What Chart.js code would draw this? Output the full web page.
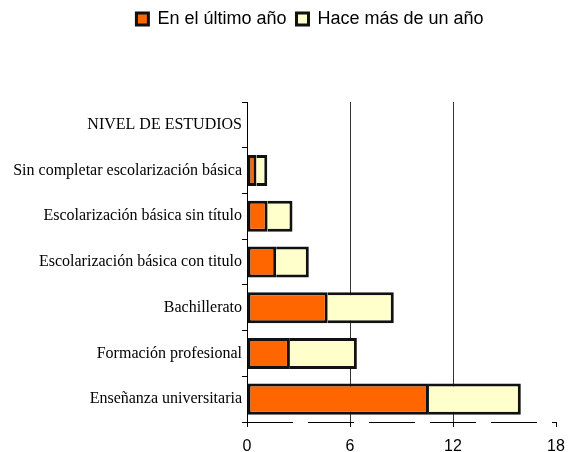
<!DOCTYPE html>
<html>
<head>
<meta charset="utf-8">
<script src="https://cdn.jsdelivr.net/npm/chart.js@4.4.0/dist/chart.umd.min.js"></script>
<style>
  html, body { margin: 0; padding: 0; background: #fff; }
  #wrap { width: 575px; height: 452px; position: relative; }
</style>
</head>
<body>
<div id="wrap"><canvas id="c" width="575" height="452"></canvas></div>
<script>
const categories = [
  "NIVEL DE ESTUDIOS",
  "Sin completar escolarización básica",
  "Escolarización básica sin título",
  "Escolarización básica con titulo",
  "Bachillerato",
  "Formación profesional",
  "Enseñanza universitaria"
];
const seriesNames = ["En el último año", "Hace más de un año"];
const ultimoAnio = [null, 0.55, 1.2, 1.7, 4.7, 2.5, 10.6];
const masDeUnAnio = [null, 0.63, 1.45, 1.9, 3.85, 3.9, 5.35];
const xTicks = [0, 6, 12, 18];

const layoutTweaks = {
  id: 'layoutTweaks',
  beforeLayout(chart) {
    const lg = chart.legend;
    if (lg && !lg._patched) {
      const f = lg.fit;
      lg.fit = function () { f.call(this); this.height = 102; };
      lg._patched = true;
    }
  },
  afterLayout(chart) {
    const lg = chart.legend;
    if (lg) { lg.left += 32; lg.right += 32; }
  },
  afterDraw(chart) {
    const x = chart.scales.x;
    const ctx = chart.ctx;
    ctx.save();
    ctx.strokeStyle = '#000';
    ctx.lineWidth = 1;
    ctx.setLineDash([46, 15]);
    ctx.beginPath();
    ctx.moveTo(x.left, Math.round(x.top) + 0.5);
    ctx.lineTo(x.right, Math.round(x.top) + 0.5);
    ctx.stroke();
    ctx.restore();
  }
};

new Chart(document.getElementById('c'), {
  type: 'bar',
  data: {
    labels: categories,
    datasets: [
      {
        label: seriesNames[0],
        data: ultimoAnio,
        backgroundColor: '#FF6600',
        borderColor: '#111',
        borderWidth: 3,
        borderSkipped: false,
        barPercentage: 0.68,
        categoryPercentage: 1
      },
      {
        label: seriesNames[1],
        data: masDeUnAnio,
        backgroundColor: '#FFFFCC',
        borderColor: '#111',
        borderWidth: 3,
        borderSkipped: 'start',
        barPercentage: 0.68,
        categoryPercentage: 1
      }
    ]
  },
  options: {
    indexAxis: 'y',
    responsive: false,
    animation: false,
    devicePixelRatio: 1,
    layout: { padding: { left: 0, right: 19, top: 0, bottom: 0 } },
    plugins: {
      legend: {
        position: 'top',
        labels: {
          color: '#000',
          boxWidth: 12,
          boxHeight: 12,
          padding: 10,
          font: { family: "'Liberation Sans', Arial, sans-serif", size: 18 }
        }
      },
      tooltip: { enabled: false }
    },
    scales: {
      x: {
        stacked: true,
        min: 0,
        max: 18,
        afterBuildTicks(scale) { scale.ticks = xTicks.map(v => ({ value: v })); },
        afterFit(scale) { scale.height = 30; },
        border: { display: false },
        grid: {
          color: (c) => (c.tick && (c.tick.value === 6 || c.tick.value === 12)) ? '#333' : 'rgba(0,0,0,0)',
          tickColor: '#000',
          tickLength: 5,
          lineWidth: 1
        },
        ticks: {
          color: '#000',
          padding: 10,
          font: { family: "'Liberation Sans', Arial, sans-serif", size: 16 }
        }
      },
      y: {
        stacked: true,
        offset: true,
        afterFit(scale) { scale.width = 247; },
        border: { display: true, color: '#000', width: 1 },
        grid: {
          offset: true,
          drawOnChartArea: false,
          tickColor: '#000',
          tickLength: 5
        },
        ticks: {
          color: '#000',
          padding: 0,
          font: { family: "'Liberation Serif', 'Times New Roman', serif", size: 16 }
        }
      }
    }
  },
  plugins: [layoutTweaks]
});
</script>
</body>
</html>
